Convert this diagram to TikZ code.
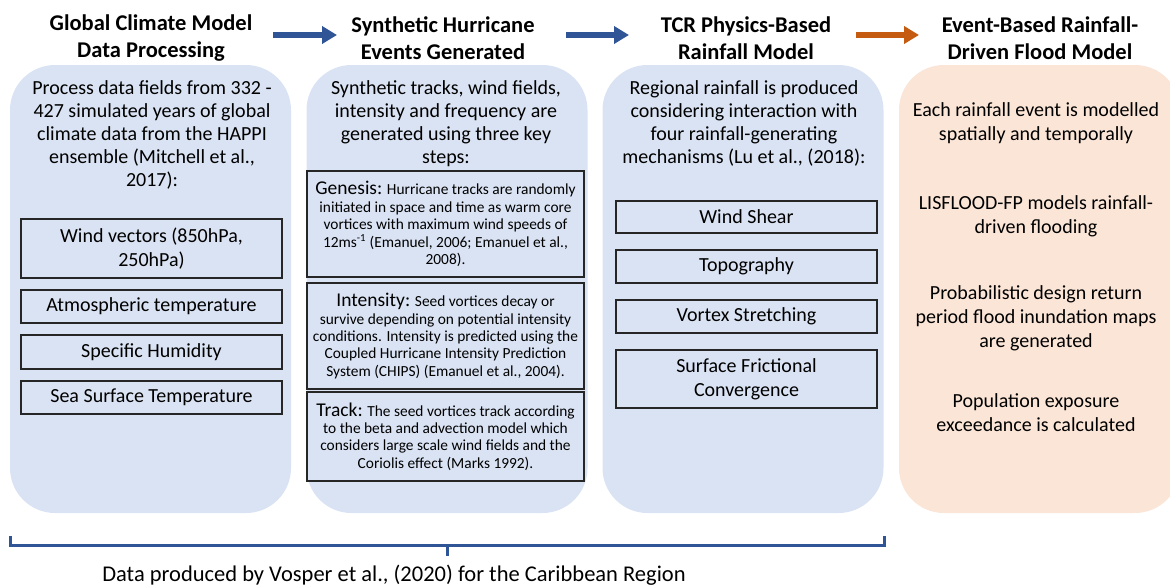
\documentclass[tikz,border=0pt]{standalone}
\usepackage{fontspec}
\setmainfont{Carlito}
\usepackage{xcolor}
\usetikzlibrary{arrows.meta}
\definecolor{panelblue}{HTML}{DAE3F3}
\definecolor{panelorange}{HTML}{FBE5D6}
\definecolor{arrowblue}{HTML}{2F5597}
\definecolor{arroworange}{HTML}{C55A11}
\definecolor{boxline}{HTML}{262626}

\begin{document}
\begin{tikzpicture}[x=1pt, y=-1pt,
	panel/.style = {fill=panelblue, rounded corners=45pt, minimum width=281pt, minimum height=448pt, inner sep=0pt},
	head/.style = {align=center, inner sep=0pt, font=\fontsize{22.5}{27}\selectfont\bfseries},
	body/.style = {align=center, inner sep=0pt, anchor=north, font=\fontsize{20}{23}\selectfont},
	item/.style = {draw=boxline, line width=1.3pt, align=center, inner sep=0pt, minimum width=261pt, font=\fontsize{20}{24}\selectfont},
	stepbox/.style = {draw=boxline, line width=1.3pt, align=center, inner sep=0pt, minimum width=277pt, font=\fontsize{15.4}{17.4}\selectfont},
	flow/.style = {line width=5.5pt, -{Triangle[length=15pt,width=17pt]}},
	brace/.style = {draw=arrowblue, line width=3pt}]
	\useasboundingbox (0,0) rectangle (1170,587);

	\node[panel] (p1) at (150.5,289) {};
	\node[panel] (p2) at (447,289) {};
	\node[panel] (p3) at (743,289) {};
	\node[panel, fill=panelorange] (p4) at (1039.5,289) {};

	\node[head] (h1) at (151,38) {Global Climate Model\\Data Processing};
	\node[head] (h2) at (443,38) {Synthetic Hurricane\\Events Generated};
	\node[head] (h3) at (746,38) {TCR Physics-Based\\Rainfall Model};
	\node[head] (h4) at (1040,38) {Event-Based Rainfall-\\Driven Flood Model};

	\coordinate (a1s) at (273,35);
	\coordinate (a1e) at (337,35);
	\coordinate (a2s) at (566,35);
	\coordinate (a2e) at (629,35);
	\coordinate (a3s) at (856,35);
	\coordinate (a3e) at (919,35);
	\draw[flow, arrowblue] (a1s) -- (a1e);
	\draw[flow, arrowblue] (a2s) -- (a2e);
	\draw[flow, arroworange] (a3s) -- (a3e);

	\node[body] (t1) at (152,80) {Process data fields from 332 -\\427 simulated years of global\\climate data from the HAPPI\\ensemble (Mitchell et al.,\\2017):};
	\node[body] (t2) at (446,80) {Synthetic tracks, wind fields,\\intensity and frequency are\\generated using three key\\steps:};
	\node[body] (t3) at (744,80) {Regional rainfall is produced\\considering interaction with\\four rainfall-generating\\mechanisms (Lu et al., (2018):};

	\node[item, minimum height=59pt] (c1) at (151.5,248.5) {Wind vectors (850hPa,\\250hPa)};
	\node[item, minimum height=33pt] (c2) at (151.5,306.5) {Atmospheric temperature};
	\node[item, minimum height=34pt] (c3) at (151.5,352) {Specific Humidity};
	\node[item, minimum height=33pt] (c4) at (151.5,397.5) {Sea Surface Temperature};

	\node[stepbox, minimum height=106pt] (s1) at (445.5,224) {{\fontsize{19.5}{21}\selectfont Genesis:} Hurricane tracks are randomly\\initiated in space and time as warm core\\vortices with maximum wind speeds of\\12ms\textsuperscript{-1} (Emanuel, 2006; Emanuel et al.,\\2008).};
	\node[stepbox, minimum height=106pt] (s2) at (445.5,336) {{\fontsize{19.5}{21}\selectfont Intensity:} Seed vortices decay or\\survive depending on potential intensity\\conditions. Intensity is predicted using the\\Coupled Hurricane Intensity Prediction\\System (CHIPS) (Emanuel et al., 2004).};
	\node[stepbox, minimum height=89pt] (s3) at (445.5,436.5) {{\fontsize{19.5}{21}\selectfont Track:} The seed vortices track according\\to the beta and advection model which\\considers large scale wind fields and the\\Coriolis effect (Marks 1992).};

	\node[item, minimum height=32pt] (m1) at (746.5,217) {Wind Shear};
	\node[item, minimum height=33pt] (m2) at (746.5,266.5) {Topography};
	\node[item, minimum height=33pt] (m3) at (746.5,316.5) {Vortex Stretching};
	\node[item, minimum height=58pt] (m4) at (746.5,379) {Surface Frictional\\Convergence};

	\node[body, font=\fontsize{20}{24}\selectfont] (f1) at (1036,102) {Each rainfall event is modelled\\spatially and temporally};
	\node[body, font=\fontsize{20}{24}\selectfont] (f2) at (1036,195) {LISFLOOD-FP models rainfall-\\driven flooding};
	\node[body, font=\fontsize{20}{24}\selectfont] (f3) at (1036,285) {Probabilistic design return\\period flood inundation maps\\are generated};
	\node[body, font=\fontsize{20}{24}\selectfont] (f4) at (1036,393) {Population exposure\\exceedance is calculated};

	\coordinate (bl) at (10,536);
	\coordinate (br) at (884,536);
	\coordinate (bc) at (447,545);
	\coordinate (bt) at (447,556);
	\draw[brace] (bl) |- (bc) -| (br);
	\draw[brace] (bc) -- (bt);
	\node[font=\fontsize{22.5}{26}\selectfont, inner sep=0pt] (note) at (394,575) {Data produced by Vosper et al., (2020) for the Caribbean Region};
\end{tikzpicture}
\end{document}
